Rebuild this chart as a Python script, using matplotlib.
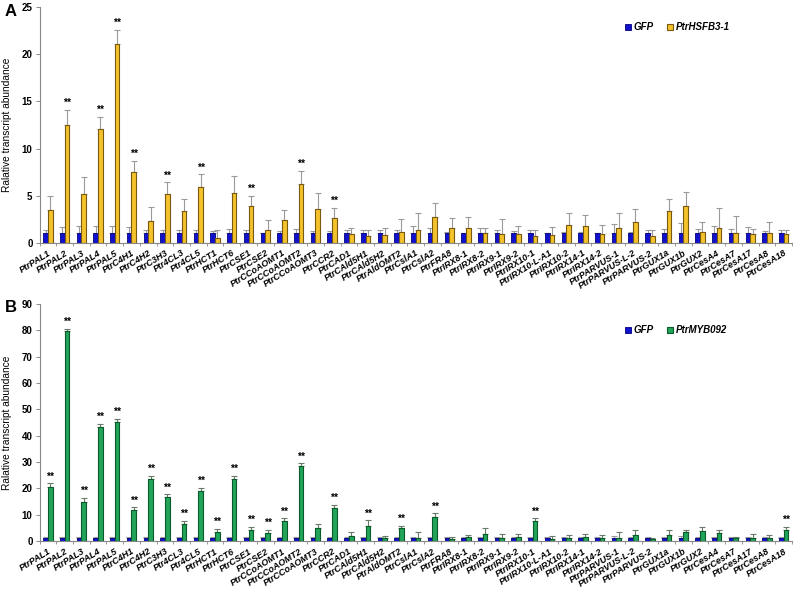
import matplotlib
matplotlib.use("Agg")
import matplotlib.pyplot as plt
import numpy as np

plt.rcParams["font.family"] = ["Liberation Sans", "DejaVu Sans"]

genes = ["PtrPAL1", "PtrPAL2", "PtrPAL3", "PtrPAL4", "PtrPAL5", "PtrC4H1", "PtrC4H2", "PtrC3H3",
         "Ptr4CL3", "Ptr4CL5", "PtrHCT1", "PtrHCT6", "PtrCSE1", "PtrCSE2", "PtrCCoAOMT1",
         "PtrCCoAOMT2", "PtrCCoAOMT3", "PtrCCR2", "PtrCAD1", "PtrCAld5H1", "PtrCAld5H2",
         "PtrAldOMT2", "PtrCslA1", "PtrCslA2", "PtrFRA8", "PtrIRX8-1", "PtrIRX8-2", "PtrIRX9-1",
         "PtrIRX9-2", "PtrIRX10-1", "PtrIRX10-L-A1", "PtrIRX10-2", "PtrIRX14-1", "PtrIRX14-2",
         "PtrPARVUS-1", "PtrPARVUS-L-2", "PtrPARVUS-2", "PtrGUX1a", "PtrGUX1b", "PtrGUX2",
         "PtrCesA4", "PtrCesA7", "PtrCesA17", "PtrCesA8", "PtrCesA18"]

# Panel A
gfp_a = [1.0] * 45
gfp_a_err = [0.4, 0.7, 0.8, 0.8, 0.8, 0.7, 0.3, 0.3, 0.4, 0.4, 0.2, 0.5, 0.3, 0.05, 0.2,
             0.5, 0.2, 0.2, 0.3, 0.3, 0.3, 0.4, 0.75, 0.6, 0.1, 0.05, 0.6, 0.4, 0.2, 0.35,
             0.05, 0.15, 0.15, 0.05, 1.0, 0.15, 0.3, 0.5, 1.05, 0.5, 0.75, 0.45, 0.7, 0.2, 0.35]
hsf_a = [3.45, 12.5, 5.15, 12.1, 21.1, 7.5, 2.3, 5.15, 3.4, 5.9, 0.55, 5.3, 3.85, 1.4, 2.4,
         6.25, 3.55, 2.6, 0.9, 0.7, 0.8, 1.15, 1.35, 2.7, 1.55, 1.55, 1.0, 0.9, 0.9, 0.7,
         0.8, 1.85, 1.8, 0.9, 1.6, 2.2, 0.7, 3.35, 3.9, 1.15, 1.55, 1.0, 0.9, 1.0, 0.9]
hsf_a_err = [1.55, 1.6, 1.8, 1.3, 1.5, 1.2, 1.45, 1.25, 1.2, 1.35, 0.85, 1.75, 1.15, 1.05, 1.05,
             1.35, 1.75, 1.1, 0.7, 0.65, 0.8, 1.35, 1.8, 1.55, 1.05, 1.15, 0.6, 1.6, 0.9, 0.7,
             0.9, 1.35, 1.15, 0.95, 1.55, 1.35, 0.65, 1.25, 1.45, 1.05, 2.1, 1.85, 0.55, 1.25, 0.45]
sig_a = [1, 3, 4, 5, 7, 9, 12, 15, 17]

# Panel B
gfp_b = [1.0] * 45
gfp_b_err = [0.4, 0.6, 0.7, 0.7, 0.6, 0.7, 0.4, 0.4, 0.5, 0.4, 0.4, 0.5, 0.4, 0.4, 0.4,
             0.4, 0.4, 0.4, 0.5, 0.5, 0.4, 0.5, 0.7, 0.6, 0.4, 0.4, 0.6, 0.6, 0.6, 0.4,
             0.4, 0.4, 0.4, 0.4, 0.8, 0.4, 0.5, 0.5, 0.8, 0.5, 0.6, 0.5, 0.6, 0.4, 0.5]
myb_b = [20.4, 79.7, 14.9, 43.4, 45.3, 11.6, 23.5, 16.6, 6.3, 19.1, 3.4, 23.5, 4.3, 3.0, 7.5,
         28.4, 4.8, 12.7, 2.0, 5.8, 1.1, 4.8, 1.0, 9.1, 0.8, 1.4, 2.5, 1.3, 1.5, 7.5,
         0.9, 1.3, 1.5, 1.3, 1.0, 2.4, 0.9, 2.4, 3.3, 3.8, 3.0, 1.0, 1.0, 1.1, 4.1]
myb_b_err = [1.5, 0.9, 1.4, 1.2, 1.0, 1.2, 1.2, 1.1, 1.3, 1.2, 1.2, 1.2, 1.0, 1.2, 1.1,
             1.1, 1.5, 1.0, 1.3, 2.0, 0.7, 1.0, 2.3, 1.4, 0.8, 1.0, 2.3, 1.5, 1.2, 1.1,
             0.9, 0.9, 1.0, 0.9, 2.3, 1.9, 0.4, 1.9, 1.0, 1.6, 1.3, 0.5, 1.7, 1.1, 1.2]
sig_b = list(range(0, 16)) + [17, 19, 21, 23, 29, 44]

W, H = 800, 596
fig = plt.figure(figsize=(W / 100, H / 100), dpi=100)

BLUE = "#1111CC"
BLUE_EDGE = "#000080"
YEL = "#F4C22B"
YEL_EDGE = "#7A5A10"
GRN = "#22A55A"
GRN_EDGE = "#0B5A2A"
GRAY = "#9A9A9A"


def panel(ax, ctrl, ctrl_err, trt, trt_err, sig, ymax, ystep, trt_col, trt_edge, trt_name,
          err_col_trt, leg_y):
    x = np.arange(len(genes))
    bw = 0.28
    ax.bar(x - bw / 2, ctrl, bw, color=BLUE, edgecolor=BLUE_EDGE, linewidth=0.6, label="GFP",
           zorder=2)
    ax.bar(x + bw / 2, trt, bw, color=trt_col, edgecolor=trt_edge, linewidth=0.8,
           label=trt_name, zorder=2)
    ax.errorbar(x - bw / 2, ctrl, yerr=[np.zeros(len(ctrl)), ctrl_err], fmt="none",
                ecolor=GRAY, elinewidth=0.8, capsize=2, capthick=0.8, zorder=1)
    ax.errorbar(x + bw / 2, trt, yerr=[np.zeros(len(trt)), trt_err], fmt="none",
                ecolor=err_col_trt, elinewidth=0.8, capsize=2, capthick=0.8, zorder=1)
    for i in sig:
        ax.text(x[i] + bw / 2, trt[i] + trt_err[i] + ymax * 0.008, "**", ha="center",
                va="bottom", fontsize=7.5, fontweight="bold")
    ax.set_xlim(-0.5, len(genes) - 0.5)
    ax.set_ylim(0, ymax)
    ax.set_yticks(np.arange(0, ymax + 0.1, ystep))
    ax.tick_params(axis="y", labelsize=7, length=3, width=0.6, color="#777777", pad=2)
    for lab in ax.get_yticklabels():
        lab.set_fontweight("bold")
    ax.set_xticks(x)
    ax.set_xticklabels(genes, rotation=32, ha="right", rotation_mode="anchor", fontsize=6.5,
                       fontweight="bold", fontstyle="italic")
    ax.tick_params(axis="x", which="major", length=0, pad=4)
    ax.set_xticks(np.arange(-0.5, len(genes), 1.0), minor=True)
    ax.tick_params(axis="x", which="minor", length=2, width=0.6, color="#888888")
    for s in ["top", "right"]:
        ax.spines[s].set_visible(False)
    for s in ["left", "bottom"]:
        ax.spines[s].set_color("#888888")
        ax.spines[s].set_linewidth(0.8)
    ax.set_ylabel("Ralative transcript abundance", fontsize=7.3, labelpad=7)
    leg = ax.legend(loc="center left", bbox_to_anchor=(0.778, leg_y), ncol=2, frameon=False,
                    fontsize=7, handlelength=0.6, handleheight=0.6, handletextpad=0.3,
                    columnspacing=1.4, borderpad=0, borderaxespad=0)
    for t in leg.get_texts():
        t.set_fontstyle("italic")
        t.set_fontweight("bold")
    return ax


left = 39.5 / W
width = (792 - 39.5) / W
axA = fig.add_axes([left, 1 - 242.7 / H, width, (242.7 - 7.3) / H])
panel(axA, gfp_a, gfp_a_err, hsf_a, hsf_a_err, sig_a, 25, 5, YEL, YEL_EDGE, "PtrHSFB3-1",
      GRAY, 0.916)
axB = fig.add_axes([left, 1 - 541 / H, width, (541 - 304) / H])
panel(axB, gfp_b, gfp_b_err, myb_b, myb_b_err, sig_b, 90, 10, GRN, GRN_EDGE, "PtrMYB092",
      "#6A7A6A", 0.89)

fig.text(5 / W, 1 - 12 / H, "A", fontsize=12, fontweight="bold", va="center", ha="left")
fig.text(5 / W, 1 - 308 / H, "B", fontsize=12, fontweight="bold", va="center", ha="left")

fig.savefig("out.png", dpi=100)
